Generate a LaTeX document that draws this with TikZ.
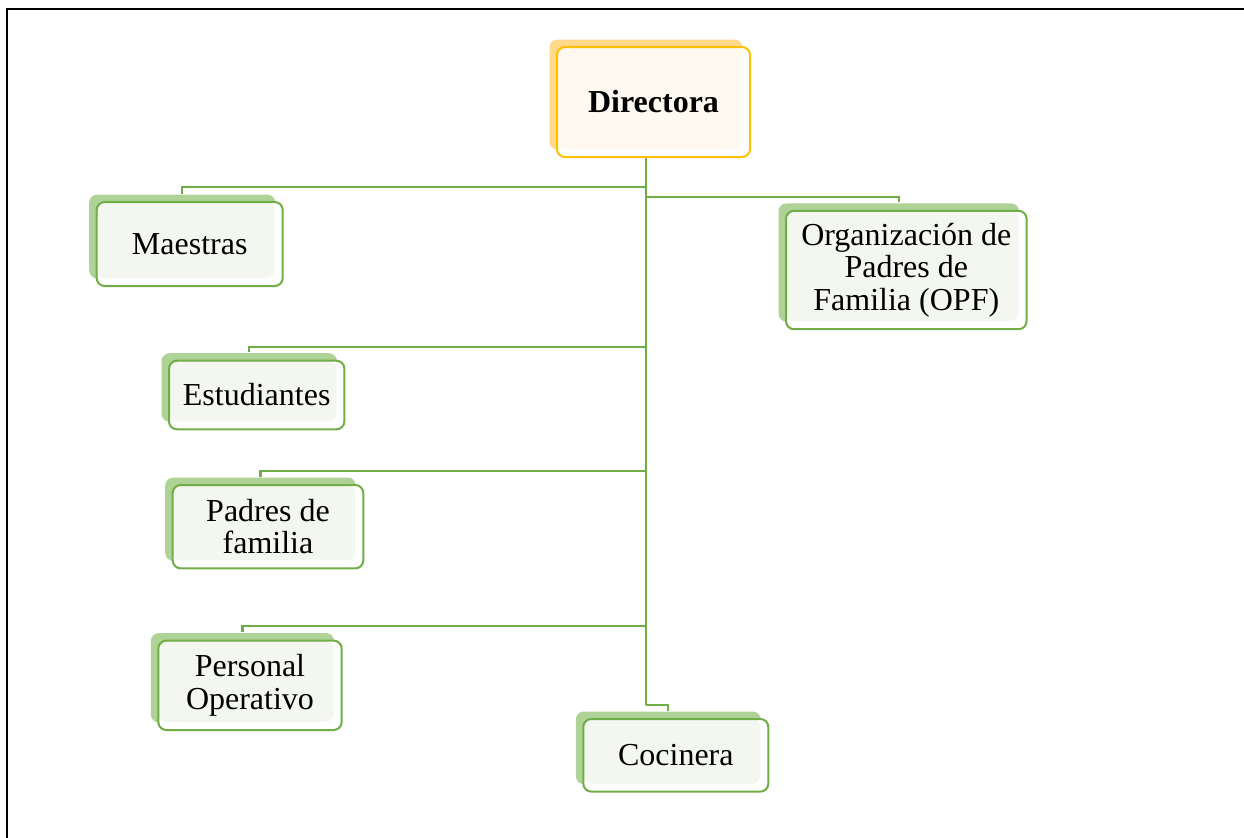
\documentclass[tikz,border=0pt]{standalone}
\usepackage{fontspec}
\setmainfont{Liberation Serif}
\usetikzlibrary{shadows}
\definecolor{gline}{HTML}{70AD47}
\definecolor{gshade}{HTML}{AFD396}
\definecolor{gfill}{HTML}{F3F7F0}
\definecolor{oline}{HTML}{FFC000}
\definecolor{oshade}{HTML}{FFD88A}
\definecolor{ofill}{HTML}{FFF9F2}
\tikzset{
  box/.style n args={3}{draw=#1,line width=1pt,rounded corners=4pt,fill=white,
    inner sep=0pt,align=center,font=\fontsize{16}{16.2}\selectfont,
    general shadow={shadow xshift=-3.75pt,shadow yshift=3.75pt,fill=#2},
    path picture={\fill[#3,rounded corners=4pt] (path picture bounding box.north west)
      rectangle ([xshift=-4pt,yshift=4pt]path picture bounding box.south east);}},
  unit/.style={box={gline}{gshade}{gfill}},
  head/.style={box={oline}{oshade}{ofill},font=\fontsize{16}{16.2}\selectfont\bfseries},
  link/.style={draw=gline,line width=1.1pt}
}
\begin{document}
\begin{tikzpicture}[x=0.5pt,y=-0.5pt]
	\useasboundingbox (0,0) rectangle (1244,837);
	\clip (0,0) rectangle (1244,837);
	\draw [line width=1pt] (6.5,9) rectangle (1270,870);
	% nodes
	\node [head,minimum width=96.5pt,minimum height=55pt] at (653.5,102) (dir) {Directora};
	\node [unit,minimum width=93pt,minimum height=42pt] at (189.7,244) (mae) {Maestras};
	\node [unit,minimum width=120.3pt,minimum height=59.2pt] at (906.3,270) (opf) {Organización de\\Padres de\\Familia (OPF)};
	\node [unit,minimum width=87.7pt,minimum height=34.3pt] at (256.7,395) (est) {Estudiantes};
	\node [unit,minimum width=95.3pt,minimum height=41.7pt] at (268,526.7) (pad) {Padres de\\familia};
	\node [unit,minimum width=91.7pt,minimum height=44.7pt] at (250,685.3) (per) {Personal\\Operativo};
	\node [unit,minimum width=92.5pt,minimum height=36.3pt] at (675.8,755.3) (coc) {Cocinera};
	% connectors
	\coordinate (dir-bot) at ([xshift=-3.75pt]dir.south);
	\foreach \n in {mae,opf,est,pad,per,coc}
		\coordinate (\n-top) at ([xshift=-3.75pt,yshift=3.75pt]\n.north);
	\draw [link] (dir-bot) -- (dir-bot |- 0,705);
	\foreach \n/\y in {mae/187,opf/197,est/347,pad/471,per/626,coc/705}
		\draw [link] (dir-bot |- 0,\y) -| (\n-top);
\end{tikzpicture}
\end{document}
